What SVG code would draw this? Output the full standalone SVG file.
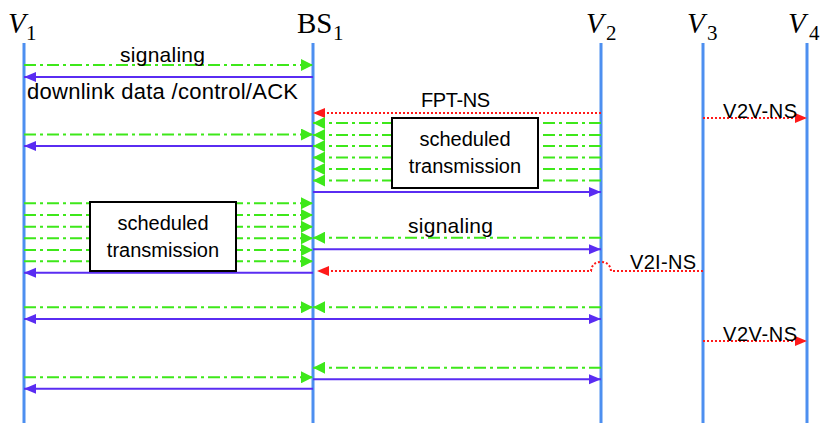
<svg xmlns="http://www.w3.org/2000/svg" width="830" height="442" viewBox="0 0 830 442">
<style>
.life{stroke:#4d8ff0;stroke-width:3;fill:none}
.g{stroke:#3ee81a;stroke-width:2;stroke-dasharray:12 4 3 4;fill:none}
.b{stroke:#5a2cf2;stroke-width:2;fill:none}
.r{stroke:#ff1a1a;stroke-width:2;stroke-dasharray:2 2;fill:none}
.lbl{font-family:"Liberation Sans",Arial,sans-serif;font-size:20px;fill:#000}
.hv{font-family:"Liberation Serif","DejaVu Serif",serif;font-style:italic;font-size:29px;fill:#000}
.hs{font-family:"Liberation Serif","DejaVu Serif",serif;font-size:21px;fill:#000}
.hb{font-family:"Liberation Serif","DejaVu Serif",serif;font-size:29px;fill:#000}
.box{fill:#fff;stroke:#000;stroke-width:2}
</style>
<defs>
<marker id="mg" markerUnits="userSpaceOnUse" markerWidth="12" markerHeight="12" refX="12" refY="6" orient="auto"><path d="M0,0 L12,6 L0,12 z" fill="#3ee81a"/></marker>
<marker id="mb" markerUnits="userSpaceOnUse" markerWidth="12" markerHeight="12" refX="12" refY="6" orient="auto"><path d="M0,1 L12,6 L0,11 z" fill="#5a2cf2"/></marker>
<marker id="mr" markerUnits="userSpaceOnUse" markerWidth="12" markerHeight="12" refX="12" refY="6" orient="auto"><path d="M0,1 L12,6 L0,11 z" fill="#ff1a1a"/></marker>
</defs>
<rect width="830" height="442" fill="#fff"/>
<g id="V1">
<line class="life" x1="24" y1="43" x2="24" y2="423"/>
<text class="hv" x="8" y="33">V</text><text class="hs" x="26" y="40">1</text>
</g>
<g id="BS1">
<line class="life" x1="313" y1="43" x2="313" y2="423"/>
<text class="hb" x="297" y="33">BS</text><text class="hs" x="333" y="40">1</text>
</g>
<g id="V2">
<line class="life" x1="601" y1="43" x2="601" y2="423"/>
<text class="hv" x="586" y="33">V</text><text class="hs" x="606" y="40">2</text>
</g>
<g id="V3">
<line class="life" x1="703" y1="43" x2="703" y2="423"/>
<text class="hv" x="687" y="33">V</text><text class="hs" x="707" y="40">3</text>
</g>
<g id="V4">
<line class="life" x1="807" y1="43" x2="807" y2="423"/>
<text class="hv" x="788" y="33">V</text><text class="hs" x="809" y="40">4</text>
</g>
<g id="connectors">
<line class="g" x1="24" y1="65" x2="313" y2="65" marker-end="url(#mg)"/>
<line class="b" x1="313" y1="77" x2="24" y2="77" marker-end="url(#mb)"/>
<line class="r" x1="601" y1="113" x2="313" y2="113" marker-end="url(#mr)"/>
<line class="r" x1="703" y1="118" x2="807" y2="118" marker-end="url(#mr)"/>
<line class="g" x1="601" y1="123" x2="313" y2="123" marker-end="url(#mg)"/>
<line class="g" x1="601" y1="135" x2="313" y2="135" marker-end="url(#mg)"/>
<line class="g" x1="601" y1="146" x2="313" y2="146" marker-end="url(#mg)"/>
<line class="g" x1="601" y1="157.5" x2="313" y2="157.5" marker-end="url(#mg)"/>
<line class="g" x1="601" y1="169" x2="313" y2="169" marker-end="url(#mg)"/>
<line class="g" x1="601" y1="180.5" x2="313" y2="180.5" marker-end="url(#mg)"/>
<line class="g" x1="24" y1="134.5" x2="313" y2="134.5" marker-end="url(#mg)"/>
<line class="b" x1="313" y1="146" x2="24" y2="146" marker-end="url(#mb)"/>
<line class="b" x1="313" y1="192" x2="601" y2="192" marker-end="url(#mb)"/>
<line class="g" x1="24" y1="203.3" x2="313" y2="203.3" marker-end="url(#mg)"/>
<line class="g" x1="24" y1="215" x2="313" y2="215" marker-end="url(#mg)"/>
<line class="g" x1="24" y1="226.7" x2="313" y2="226.7" marker-end="url(#mg)"/>
<line class="g" x1="24" y1="238.3" x2="313" y2="238.3" marker-end="url(#mg)"/>
<line class="g" x1="24" y1="250" x2="313" y2="250" marker-end="url(#mg)"/>
<line class="g" x1="24" y1="261.3" x2="313" y2="261.3" marker-end="url(#mg)"/>
<line class="g" x1="601" y1="237.7" x2="313" y2="237.7" marker-end="url(#mg)"/>
<line class="b" x1="313" y1="249.3" x2="601" y2="249.3" marker-end="url(#mb)"/>
<path class="r" d="M703,271 L611,271 Q610,262 601,262 Q592,262 591,271 L317,271" marker-end="url(#mr)"/>
<line class="b" x1="313" y1="272.7" x2="24" y2="272.7" marker-end="url(#mb)"/>
<line class="g" x1="24" y1="307.3" x2="313" y2="307.3" marker-end="url(#mg)"/>
<line class="g" x1="601" y1="307.3" x2="313" y2="307.3" marker-end="url(#mg)"/>
<line class="b" x1="313" y1="319" x2="24" y2="319" marker-end="url(#mb)"/>
<line class="b" x1="313" y1="319" x2="601" y2="319" marker-end="url(#mb)"/>
<line class="r" x1="703" y1="341" x2="807" y2="341" marker-end="url(#mr)"/>
<line class="g" x1="601" y1="367.7" x2="313" y2="367.7" marker-end="url(#mg)"/>
<line class="g" x1="24" y1="377.3" x2="313" y2="377.3" marker-end="url(#mg)"/>
<line class="b" x1="313" y1="379.3" x2="601" y2="379.3" marker-end="url(#mb)"/>
<line class="b" x1="313" y1="388.7" x2="24" y2="388.7" marker-end="url(#mb)"/>
</g>
<g id="labels">
<text class="lbl" x="120" y="62" style="font-size:21px" textLength="85">signaling</text>
<text class="lbl" x="27" y="99" style="font-size:22px" textLength="271">downlink data /control/ACK</text>
<text class="lbl" x="421" y="107" textLength="69">FPT-NS</text>
<text class="lbl" x="723" y="118" textLength="74">V2V-NS</text>
<text class="lbl" x="408" y="233" style="font-size:21px" textLength="85">signaling</text>
<text class="lbl" x="630" y="269" textLength="66">V2I-NS</text>
<text class="lbl" x="723" y="341" textLength="74">V2V-NS</text>
</g>
<g id="box1">
<rect class="box" x="392" y="118" width="146" height="70"/>
<text class="lbl" x="465" y="146" text-anchor="middle">scheduled</text>
<text class="lbl" x="465" y="173" text-anchor="middle">transmission</text>
</g>
<g id="box2">
<rect class="box" x="90" y="202" width="146" height="69"/>
<text class="lbl" x="163" y="230" text-anchor="middle">scheduled</text>
<text class="lbl" x="163" y="257" text-anchor="middle">transmission</text>
</g>
</svg>
